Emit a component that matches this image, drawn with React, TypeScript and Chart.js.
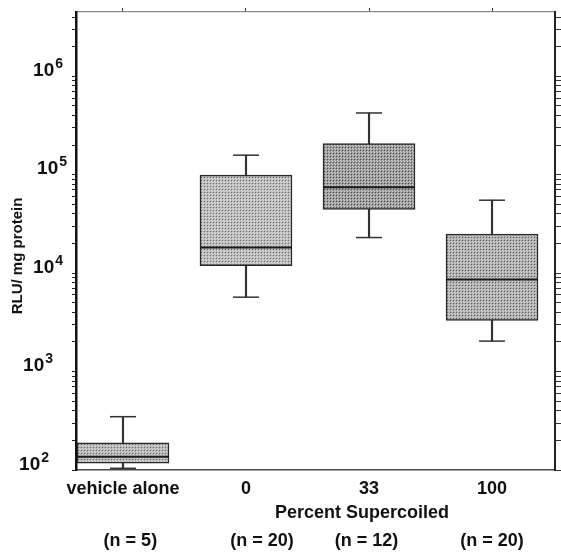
import React, { useEffect, useRef } from 'react';
import { Chart, registerables } from 'chart.js';

Chart.register(...registerables);

// ---- data ----
const categories = ['vehicle alone', '0', '33', '100'];
const sampleSizes = ['(n = 5)', '(n = 20)', '(n = 12)', '(n = 20)'];
const whiskerLow = [104, 5700, 23000, 2040];
const quartile1 = [117, 11900, 44400, 3310];
const medians = [136, 18200, 74700, 8630];
const quartile3 = [189, 99000, 207000, 24900];
const whiskerHigh = [348, 158000, 424000, 55100];
const yDecadeTicks = [100, 1000, 10000, 100000, 1000000];
const xAxisTitle = 'Percent Supercoiled';
const yAxisTitle = 'RLU/ mg protein';

const Y_MIN = 100;
const Y_MAX = 4.5e6;
const X_MIN = 0.618;
const X_MAX = 4.512;
const FONT = '"Liberation Sans", Arial, Helvetica, sans-serif';

const xs = categories.map((_, i) => i + 1);

function makePattern(base: string, dark: string, light: string) {
  const c = document.createElement('canvas');
  c.width = 3;
  c.height = 3;
  const g = c.getContext('2d')!;
  g.fillStyle = base;
  g.fillRect(0, 0, 3, 3);
  g.fillStyle = dark;
  g.fillRect(0, 0, 1, 1);
  g.fillStyle = light;
  g.fillRect(1, 1, 1, 1);
  g.fillRect(2, 2, 1, 1);
  return g.createPattern(c, 'repeat')!;
}

function logTicks() {
  const t: any[] = [];
  for (let d = Y_MIN; d <= Y_MAX; d *= 10) {
    for (let k = 1; k <= 9; k++) {
      if (k * d <= Y_MAX) t.push({ value: k * d });
    }
  }
  return t;
}

const labelsPlugin = {
  id: 'axisTexts',
  afterDraw(chart: any, _args: any, opts: any) {
    const ctx = chart.ctx as CanvasRenderingContext2D;
    const ys = chart.scales.y;
    const xsc = chart.scales.x;
    ctx.save();
    ctx.fillStyle = '#111';
    ctx.textBaseline = 'alphabetic';
    yDecadeTicks.forEach((v, i) => {
      const y = ys.getPixelForValue(v);
      const exp = String(Math.round(Math.log10(v)));
      const right = opts.labelRight[i];
      ctx.font = `bold 14px ${FONT}`;
      const ws = ctx.measureText(exp).width;
      ctx.textAlign = 'left';
      ctx.fillText(exp, right - ws, y - 8.5);
      ctx.font = `bold 19px ${FONT}`;
      const wb = ctx.measureText('10').width;
      ctx.fillText('10', right - ws - 1 - wb, y - 0.5);
    });
    // y-axis title
    ctx.save();
    ctx.translate(ys.left + 18, (ys.top + ys.bottom) / 2 + 15);
    ctx.rotate(-Math.PI / 2);
    ctx.textAlign = 'center';
    ctx.textBaseline = 'middle';
    ctx.font = `bold 15px ${FONT}`;
    ctx.fillText(yAxisTitle, 0, 0);
    ctx.restore();
    // x-axis title
    ctx.textAlign = 'center';
    ctx.textBaseline = 'middle';
    ctx.font = `bold 18px ${FONT}`;
    ctx.fillText(xAxisTitle, xsc.getPixelForValue(opts.xTitleAt), xsc.top + 43);
    ctx.restore();
  },
};

export default function App() {
  const ref = useRef<HTMLCanvasElement>(null);

  useEffect(() => {
    if (!ref.current) return;
    const patterns = [
      makePattern('#b4b4b4', '#6a6a6a', '#dcdcdc'),
      makePattern('#b8b8b8', '#6e6e6e', '#e0e0e0'),
      makePattern('#9a9a9a', '#4a4a4a', '#d0d0d0'),
      makePattern('#ababab', '#5e5e5e', '#d8d8d8'),
    ];

    const sharedX = {
      type: 'linear' as const,
      min: X_MIN,
      max: X_MAX,
      offset: false,
    };

    const chart = new Chart(ref.current, {
      type: 'bar',
      data: {
        datasets: [
          {
            type: 'bar',
            label: 'range',
            data: xs.map((x, i) => ({ x, y: [whiskerLow[i], whiskerHigh[i]] })) as any,
            backgroundColor: '#333',
            barThickness: 1.5,
            grouped: false,
            order: 3,
          } as any,
          {
            type: 'bar',
            label: 'box',
            data: xs.map((x, i) => ({ x, y: [quartile1[i], quartile3[i]] })) as any,
            backgroundColor: patterns,
            borderColor: '#2a2a2a',
            borderWidth: 1.5,
            borderSkipped: false,
            barThickness: 92,
            grouped: false,
            order: 2,
          } as any,
          {
            type: 'line',
            label: 'median',
            data: xs.map((x, i) => ({ x, y: medians[i] })),
            showLine: false,
            pointStyle: 'line',
            pointRadius: 46,
            pointBorderWidth: 2,
            pointBorderColor: '#1a1a1a',
            order: 1,
          } as any,
          {
            type: 'line',
            label: 'caps',
            data: [
              ...xs.map((x, i) => ({ x, y: whiskerLow[i] })),
              ...xs.map((x, i) => ({ x, y: whiskerHigh[i] })),
            ],
            showLine: false,
            pointStyle: 'line',
            pointRadius: 13,
            pointBorderWidth: 1.5,
            pointBorderColor: '#333',
            order: 0,
          } as any,
        ],
      },
      options: {
        responsive: false,
        animation: false,
        events: [],
        layout: { padding: 0, autoPadding: false },
        plugins: {
          legend: { display: false },
          tooltip: { enabled: false },
          axisTexts: {
            labelRight: [49, 53, 63, 67, 63],
            xTitleAt: 2.943,
          },
        } as any,
        scales: {
          x: {
            ...sharedX,
            position: 'bottom',
            afterBuildTicks: (s: any) => {
              s.ticks = xs.map((v) => ({ value: v }));
            },
            afterFit: (s: any) => {
              s.height = 60;
            },
            grid: { display: false, drawTicks: false, offset: false },
            border: { display: true, color: '#4a4a4a', width: 1.5 },
            ticks: {
              autoSkip: false,
              maxRotation: 0,
              padding: 8,
              color: '#111',
              font: { family: FONT, size: 18, weight: 'bold' },
              callback: (_v: any, i: number) => categories[i],
            },
          },
          xn: {
            ...sharedX,
            position: 'bottom',
            weight: 1,
            afterBuildTicks: (s: any) => {
              const nOffsets = [0.06, 0.13, -0.02, 0];
              s.ticks = xs.map((v, i) => ({ value: v + nOffsets[i] }));
            },
            afterFit: (s: any) => {
              s.height = 24;
            },
            grid: { display: false, drawTicks: false, offset: false },
            border: { display: false },
            ticks: {
              autoSkip: false,
              maxRotation: 0,
              padding: 0,
              color: '#111',
              font: { family: FONT, size: 18, weight: 'bold' },
              callback: (_v: any, i: number) => sampleSizes[i],
            },
          },
          x2: {
            ...sharedX,
            position: 'top',
            afterBuildTicks: (s: any) => {
              s.ticks = xs.map((v) => ({ value: v }));
            },
            afterFit: (s: any) => {
              s.height = 12;
            },
            grid: {
              display: true,
              offset: false,
              drawOnChartArea: false,
              drawTicks: true,
              tickLength: 4,
              color: '#333',
            },
            border: { display: true, color: '#888', width: 1.2 },
            ticks: { display: false },
          },
          y: {
            type: 'logarithmic',
            position: 'left',
            min: Y_MIN,
            max: Y_MAX,
            afterBuildTicks: (s: any) => {
              s.ticks = logTicks();
            },
            afterFit: (s: any) => {
              s.width = 76;
            },
            grid: {
              display: true,
              drawOnChartArea: false,
              drawTicks: true,
              tickLength: 4,
              color: '#222',
            },
            border: { display: true, color: '#111', width: 2.5 },
            ticks: { display: false, autoSkip: false },
          },
          y2: {
            type: 'logarithmic',
            position: 'right',
            min: Y_MIN,
            max: Y_MAX,
            afterBuildTicks: (s: any) => {
              s.ticks = logTicks();
            },
            afterFit: (s: any) => {
              s.width = 6;
            },
            grid: {
              display: true,
              drawOnChartArea: false,
              drawTicks: true,
              tickLength: 6,
              color: '#333',
            },
            border: { display: true, color: '#222', width: 2 },
            ticks: { display: false, autoSkip: false },
          },
        } as any,
      },
      plugins: [labelsPlugin as any],
    });
    return () => chart.destroy();
  }, []);

  return (
    <div style={{ position: 'fixed', left: 0, top: 0, width: 561, height: 554, background: '#fff' }}>
      <canvas ref={ref} width={561} height={554} style={{ display: 'block' }} />
    </div>
  );
}
